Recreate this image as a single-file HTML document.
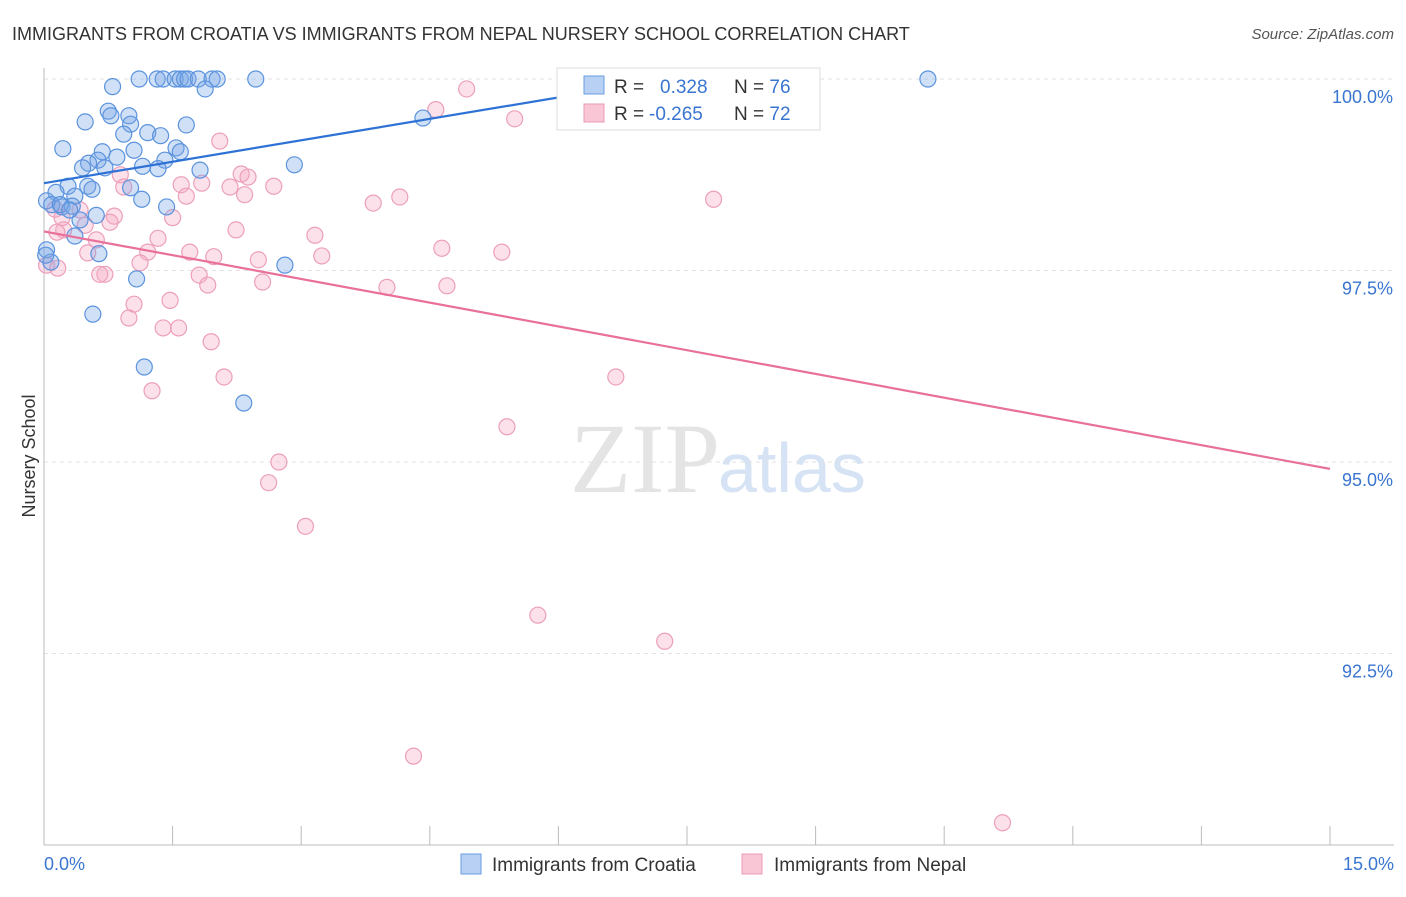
<!DOCTYPE html>
<html><head><meta charset="utf-8"><style>
body{margin:0;background:#fff;font-family:"Liberation Sans",sans-serif;}
</style></head><body>
<svg width="1406" height="892" xmlns="http://www.w3.org/2000/svg" id="chart" font-family="Liberation Sans, sans-serif">
<text x="12" y="40" font-size="18" fill="#333">IMMIGRANTS FROM CROATIA VS IMMIGRANTS FROM NEPAL NURSERY SCHOOL CORRELATION CHART</text>
<text x="1394" y="39" font-size="15" fill="#555" font-style="italic" text-anchor="end">Source: ZipAtlas.com</text>
<text x="35" y="456" font-size="18" fill="#333" transform="rotate(-90 35 456)" text-anchor="middle">Nursery School</text>
<text x="720" y="492" font-size="100" fill="#e4e4e4" text-anchor="end" font-family="Liberation Serif, serif">ZIP</text>
<text x="718" y="492" font-size="70" fill="#d5e3f5">atlas</text>
<g id="grid"></g><g id="axes"></g><g id="pts"></g><g id="trends"></g>
<g>
<rect x="557" y="68" width="263" height="62" fill="#fff" stroke="#ddd"/>
<rect x="584" y="76" width="20" height="18" fill="#b7d0f4" stroke="#6a9de0"/>
<rect x="584" y="104" width="20" height="18" fill="#f9c6d6" stroke="#eb9ab5"/>
<text x="614" y="93" font-size="19" fill="#333">R = <tspan fill="#3a75d0" x="660">0.328</tspan><tspan x="734" fill="#333">N = </tspan><tspan fill="#3a75d0">76</tspan></text>
<text x="614" y="120" font-size="19" fill="#333">R = <tspan fill="#3a75d0" x="649">-0.265</tspan><tspan x="734" fill="#333">N = </tspan><tspan fill="#3a75d0">72</tspan></text>
</g>
<g>
<rect x="461" y="854" width="20" height="20" fill="#b7d0f4" stroke="#6a9de0"/>
<text x="492" y="871" font-size="19" fill="#333">Immigrants from Croatia</text>
<rect x="742" y="854" width="20" height="20" fill="#f9c6d6" stroke="#eb9ab5"/>
<text x="774" y="871" font-size="19" fill="#333">Immigrants from Nepal</text>
</g>
</svg>
<script>
const xTicks=[0,1.5,3,4.5,6,7.5,9,10.5,12,13.5,15];
const yTicks=[100,97.5,95,92.5];
const yTickLabels=["100.0%","97.5%","95.0%","92.5%"];
const xTickLabels=["0.0%","15.0%"];
const croatiaX=[1.11,1.32,1.39,1.53,1.59,1.64,1.68,1.80,1.96,2.02,2.47,10.31,7.45,0.80,1.88,0.75,0.78,0.99,0.48,1.66,1.01,0.93,1.21,1.36,0.22,0.68,1.54,1.59,1.05,0.85,0.63,0.52,1.41,0.45,0.71,1.15,1.33,1.82,2.92,4.42,0.28,0.51,0.56,1.01,0.14,0.36,0.03,0.09,0.21,0.33,1.14,1.43,0.61,0.42,0.36,0.03,0.08,0.64,1.08,0.57,1.17,2.33,2.81,0.02,0.19,0.30];
const croatiaY=[100,100,100,100,100,100,100,100,100,100,100,100,100,99.90,99.87,99.58,99.52,99.52,99.44,99.40,99.41,99.28,99.30,99.26,99.09,99.05,99.10,99.05,99.07,98.98,98.94,98.90,98.94,98.84,98.84,98.86,98.83,98.81,98.88,99.49,98.60,98.60,98.56,98.58,98.52,98.47,98.41,98.36,98.33,98.34,98.43,98.33,98.22,98.16,97.95,97.77,97.61,97.72,97.39,96.93,96.24,95.77,97.57,97.70,98.36,98.29];
const nepalX=[6.21,6.81,6.32,4.93,4.57,5.49,2.05,0.89,0.93,1.60,1.84,2.17,2.30,2.38,2.34,1.66,2.68,3.84,4.15,7.81,0.13,0.42,0.82,0.77,1.50,0.23,0.15,0.61,1.33,2.24,3.16,1.70,1.21,2.50,1.98,3.24,4.64,5.34,1.12,0.51,0.71,0.65,1.81,1.91,2.55,4.00,4.70,1.05,1.47,0.99,1.39,1.57,1.95,2.10,1.26,6.67,5.40,2.74,2.62,3.05,5.76,7.24,4.31,11.18,0.03,0.16,0.48,0.21];
const nepalY=[100,100,99.69,99.87,99.60,99.48,99.19,98.75,98.59,98.62,98.64,98.59,98.76,98.72,98.49,98.47,98.60,98.38,98.46,98.43,98.30,98.29,98.21,98.13,98.19,98.03,98.00,97.90,97.92,98.03,97.96,97.74,97.74,97.64,97.68,97.69,97.79,97.74,97.60,97.73,97.45,97.45,97.44,97.31,97.35,97.28,97.30,97.06,97.11,96.88,96.75,96.75,96.57,96.11,95.93,96.11,95.46,95.00,94.73,94.16,93.00,92.66,91.16,90.29,97.57,97.53,98.09,98.19];
const croatiaTrendX=[0,7.45];
const croatiaTrendY=[98.64,100.03];
const nepalTrendX=[0,15];
const nepalTrendY=[98.01,94.91];
const NS="http://www.w3.org/2000/svg";
const sx=v=>44+v/15*1286;
const sy=v=>79+(100-v)*76.6;
function mk(tag,attrs,parent){const e=document.createElementNS(NS,tag);for(const k in attrs)e.setAttribute(k,attrs[k]);document.getElementById(parent).appendChild(e);return e;}
yTicks.forEach((t,i)=>{
 const l=mk('line',{x1:44,x2:1394,y1:sy(t),y2:sy(t),stroke:'#e2e2e2','stroke-dasharray':'4,4'},'grid');
 
 
 const tx=mk('text',{x:1393,y:sy(t)+24,'font-size':18,fill:'#3a75d0','text-anchor':'end'},'grid');
 tx.textContent=yTickLabels[i];
 
 
});
const ax=mk('line',{x1:44,x2:44,y1:68,y2:845,stroke:'#bbb'},'axes');


const bx=mk('line',{x1:44,x2:1394,y1:845,y2:845,stroke:'#bbb'},'axes');


xTicks.forEach(t=>{
 const l=mk('line',{x1:sx(t),x2:sx(t),y1:826,y2:845,stroke:'#bbb'},'axes');
 
 
});
const xl0=mk('text',{x:44,y:870,'font-size':18,fill:'#3a75d0'},'axes');
xl0.textContent=xTickLabels[0];


const xl1=mk('text',{x:1394,y:870,'font-size':18,fill:'#3a75d0','text-anchor':'end'},'axes');
xl1.textContent=xTickLabels[1];


function pts(X,Y,fill,stroke,name){
 X.forEach((x,i)=>{
  const c=mk('circle',{cx:sx(x),cy:sy(Y[i]),r:8,fill:fill,stroke:stroke,'stroke-width':1.2},'pts');
  
  
 });
}
pts(nepalX,nepalY,'rgba(246,170,195,0.35)','#ec9fba','nepal-point');
pts(croatiaX,croatiaY,'rgba(120,165,230,0.35)','#5b93de','croatia-point');
const t1=mk('line',{x1:sx(croatiaTrendX[0]),y1:sy(croatiaTrendY[0]),x2:sx(croatiaTrendX[1]),y2:sy(croatiaTrendY[1]),stroke:'#2f72d6','stroke-width':2.2},'trends');


const t2=mk('line',{x1:sx(nepalTrendX[0]),y1:sy(nepalTrendY[0]),x2:sx(nepalTrendX[1]),y2:sy(nepalTrendY[1]),stroke:'#e8709a','stroke-width':2.2},'trends');


</script>
</body></html>
